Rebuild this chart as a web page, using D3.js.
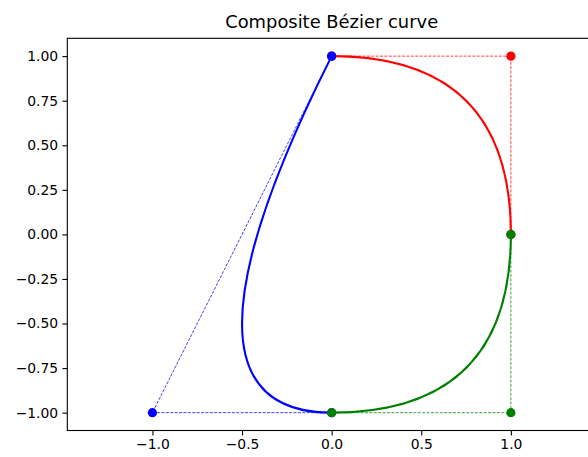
<!DOCTYPE html>
<html>
<head>
<meta charset="utf-8">
<script src="https://cdn.jsdelivr.net/npm/d3@7"></script>
<style>
  body { margin: 0; background: #fff; }
  svg { display: block; overflow: hidden; }
  text { font-family: "DejaVu Sans", sans-serif; fill: #000; }
  .axis text { font-size: 13.9px; }
  .axis path, .axis line { stroke: #000; stroke-width: 1.1; }
</style>
</head>
<body>
<svg id="chart"></svg>
<script>
const width = 588;
const height = 457;

/* DATA */
const title = "Composite Bézier curve";
const segColors = ["red", "green", "blue"];
const segPoints = [
  [[0, 1], [1, 1], [1, 0]],
  [[1, 0], [1, -1], [0, -1]],
  [[0, -1], [-1, -1], [0, 1]]
];
const dotOrder = [0, 2, 1]; // red, blue, green on top
const xTicks = [-1.0, -0.5, 0.0, 0.5, 1.0];
const yTicks = [-1.0, -0.75, -0.5, -0.25, 0.0, 0.25, 0.5, 0.75, 1.0];
const xDomain = [-1.475, 1.475];
const yDomain = [-1.1, 1.1];

const margin = { top: 38.3, left: 67.3, bottom: 430.5, right: 596 };

const svg = d3.select("#chart").attr("width", width).attr("height", height);

/* SCALES */
const x = d3.scaleLinear().domain(xDomain).range([margin.left, margin.right]);
const y = d3.scaleLinear().domain(yDomain).range([margin.bottom, margin.top]);

/* PLOT */
const plot = svg.append("g").attr("id", "plot");

// dashed control polygons
segPoints.forEach((pts, i) => {
  plot.append("path")
    .attr("d", d3.line().x(d => x(d[0])).y(d => y(d[1]))(pts))
    .attr("fill", "none")
    .attr("stroke", segColors[i])
    .attr("stroke-opacity", 0.75)
    .attr("stroke-width", 1)
    .attr("stroke-dasharray", "3,1.4");
});

// quadratic bezier curves
segPoints.forEach((pts, i) => {
  const p = d3.path();
  p.moveTo(x(pts[0][0]), y(pts[0][1]));
  p.quadraticCurveTo(x(pts[1][0]), y(pts[1][1]), x(pts[2][0]), y(pts[2][1]));
  plot.append("path")
    .attr("d", p.toString())
    .attr("fill", "none")
    .attr("stroke", segColors[i])
    .attr("stroke-width", 2.1);
});

// control points
dotOrder.forEach(i => {
  plot.append("g").selectAll("circle")
    .data(segPoints[i])
    .enter()
    .append("circle")
    .attr("cx", d => x(d[0]))
    .attr("cy", d => y(d[1]))
    .attr("r", 4.6)
    .attr("fill", segColors[i]);
});

/* AXES */
const xAxis = d3.axisBottom(x).tickValues(xTicks).tickFormat(d3.format(".1f"))
  .tickSize(4.9).tickPadding(4.2).tickSizeOuter(0);
const yAxis = d3.axisLeft(y).tickValues(yTicks).tickFormat(d3.format(".2f"))
  .tickSize(4.9).tickPadding(4.2).tickSizeOuter(0);

svg.append("g").attr("class", "axis")
  .attr("transform", "translate(0," + margin.bottom + ")")
  .call(xAxis)
  .call(g => g.select(".domain").remove())
  .selectAll("text").attr("font-family", null).attr("font-size", null);

svg.append("g").attr("class", "axis")
  .attr("transform", "translate(" + margin.left + ",0)")
  .call(yAxis)
  .call(g => g.select(".domain").remove())
  .selectAll("text").attr("font-family", null).attr("font-size", null);

// frame
svg.append("rect")
  .attr("x", margin.left)
  .attr("y", margin.top)
  .attr("width", margin.right - margin.left)
  .attr("height", margin.bottom - margin.top)
  .attr("fill", "none")
  .attr("stroke", "#000")
  .attr("stroke-width", 1.1);

/* TITLE */
svg.append("text")
  .attr("x", (margin.left + margin.right) / 2)
  .attr("y", 28.3)
  .attr("text-anchor", "middle")
  .attr("font-size", "17.9px")
  .text(title);
</script>
</body>
</html>
